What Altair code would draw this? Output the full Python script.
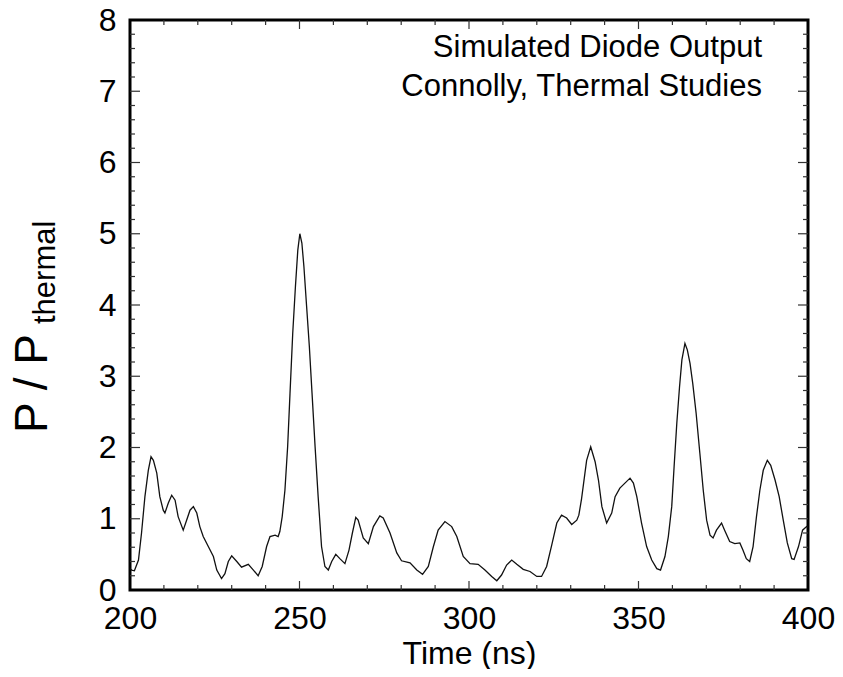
import altair as alt
import pandas as pd

# ---- data ----
time_ns = [200.0, 200.5, 201.3, 202.5, 203.4, 204.4, 205.4, 206.2, 206.9, 207.9, 208.8, 209.8,
           210.3, 211.3, 212.3, 213.3, 214.2, 215.7, 216.7, 217.7, 218.7, 219.7, 220.6, 221.6,
           223.1, 224.6, 225.6, 227.0, 228.0, 229.0, 230.0, 231.5, 232.9, 234.9, 236.4, 237.8,
           239.0, 240.3, 241.3, 242.8, 243.7, 244.2, 244.9, 245.7, 246.5, 247.2, 248.0, 248.8,
           249.5, 250.1, 250.7, 251.3, 252.1, 252.9, 253.7, 254.6, 255.5, 256.5, 257.5, 258.5,
           259.5, 260.7, 261.9, 263.4, 264.6, 265.6, 266.6, 267.3, 268.8, 270.3, 271.8, 273.7,
           274.7, 276.7, 278.7, 280.1, 282.6, 284.6, 286.3, 288.0, 289.5, 290.9, 292.9, 294.9,
           296.4, 298.3, 300.3, 302.7, 304.7, 306.7, 308.2, 309.6, 311.1, 312.6, 314.1, 316.0,
           318.0, 320.0, 321.4, 322.9, 324.4, 325.9, 327.3, 328.8, 330.3, 331.8, 332.4, 333.2,
           334.2, 334.7, 335.9, 337.2, 338.2, 339.2, 340.6, 342.1, 343.1, 344.5, 346.0, 347.5,
           348.5, 349.5, 350.9, 352.4, 353.9, 355.4, 356.5, 357.8, 358.8, 359.8, 360.5, 361.3,
           362.1, 362.8, 363.7, 364.4, 365.2, 366.0, 367.0, 368.1, 369.1, 370.1, 371.1, 372.0,
           373.0, 374.5, 375.4, 376.9, 378.4, 379.9, 380.8, 381.8, 382.8, 383.8, 384.8, 385.8,
           386.8, 388.0, 389.0, 390.3, 391.5, 392.7, 393.9, 395.2, 395.9, 397.2, 398.4, 399.6,
           400.0]
power_ratio = [0.30, 0.28, 0.27, 0.42, 0.80, 1.31, 1.68, 1.87, 1.82, 1.64, 1.31, 1.12,
               1.08, 1.22, 1.33, 1.26, 1.03, 0.84, 0.98, 1.12, 1.17, 1.08, 0.89, 0.75,
               0.61, 0.47, 0.28, 0.16, 0.23, 0.40, 0.48, 0.40, 0.32, 0.36, 0.28, 0.20,
               0.33, 0.61, 0.75, 0.77, 0.75, 0.82, 1.03, 1.40, 2.01, 2.76, 3.60, 4.26,
               4.77, 5.00, 4.87, 4.54, 3.98, 3.42, 2.76, 2.01, 1.31, 0.61, 0.33, 0.28,
               0.40, 0.50, 0.44, 0.37, 0.56, 0.80, 1.02, 0.98, 0.73, 0.65, 0.89, 1.04,
               1.01, 0.80, 0.52, 0.41, 0.38, 0.28, 0.22, 0.33, 0.61, 0.84, 0.96, 0.89,
               0.75, 0.47, 0.37, 0.36, 0.28, 0.19, 0.13, 0.21, 0.35, 0.42, 0.36, 0.29,
               0.26, 0.19, 0.19, 0.33, 0.63, 0.94, 1.05, 1.01, 0.92, 0.98, 1.05, 1.28,
               1.64, 1.82, 2.01, 1.80, 1.54, 1.17, 0.94, 1.08, 1.31, 1.43, 1.50, 1.57,
               1.50, 1.31, 0.94, 0.61, 0.42, 0.30, 0.28, 0.47, 0.75, 1.17, 1.73, 2.34,
               2.85, 3.23, 3.46, 3.37, 3.18, 2.90, 2.48, 1.92, 1.40, 0.98, 0.77, 0.73,
               0.84, 0.94, 0.84, 0.68, 0.65, 0.66, 0.56, 0.44, 0.40, 0.61, 1.03, 1.40,
               1.68, 1.82, 1.75, 1.54, 1.31, 0.98, 0.66, 0.44, 0.43, 0.61, 0.84, 0.89,
               0.88]

x_labels = [200, 250, 300, 350, 400]
y_labels = [0, 1, 2, 3, 4, 5, 6, 7, 8]
x_major_ticks = [250, 300, 350]
x_minor_ticks = [210, 220, 230, 240, 260, 270, 280, 290, 310, 320, 330, 340, 360, 370, 380, 390]
y_major_ticks = [1, 2, 3, 4, 5, 6, 7]
y_minor_ticks = [0.2, 0.4, 0.6, 0.8, 1.2, 1.4, 1.6, 1.8, 2.2, 2.4, 2.6, 2.8, 3.2, 3.4, 3.6, 3.8,
                 4.2, 4.4, 4.6, 4.8, 5.2, 5.4, 5.6, 5.8, 6.2, 6.4, 6.6, 6.8, 7.2, 7.4, 7.6, 7.8]
note_line1 = "Simulated Diode Output"
note_line2 = "Connolly, Thermal Studies"

W, H = 678, 570
FONT = "Liberation Sans"

df = pd.DataFrame({"t": time_ns, "p": power_ratio})
xscale = alt.Scale(domain=[200, 400], nice=False, zero=False)
yscale = alt.Scale(domain=[0, 8], nice=False)

x_axis = alt.Axis(values=x_labels, domain=False, ticks=False, tickSize=0, grid=False,
                  labelFontSize=32, labelPadding=13, labelColor="black", labelFont=FONT,
                  labelFlush=False, labelOverlap=False,
                  title="Time (ns)", titleFontSize=32, titleFontWeight="normal",
                  titleFont=FONT, titleColor="black", titlePadding=4)
y_axis = alt.Axis(values=y_labels, domain=False, ticks=False, tickSize=0, grid=False,
                  labelFontSize=32, labelPadding=14, labelColor="black", labelFont=FONT,
                  labelFlush=False, labelOverlap=False, title="")

line = alt.Chart(df).mark_line(color="#111111", strokeWidth=1.3, clip=True).encode(
    x=alt.X("t:Q", scale=xscale, axis=x_axis),
    y=alt.Y("p:Q", scale=yscale, axis=y_axis),
)

tick_color = "#333333"
tick_w = 1.2


def xticks(vals, length):
    d = pd.DataFrame({"t": vals})
    bottom = alt.Chart(d).mark_rule(color=tick_color, strokeWidth=tick_w).encode(
        x=alt.X("t:Q", scale=xscale, axis=x_axis), y=alt.value(H), y2=alt.value(H - length))
    top = alt.Chart(d).mark_rule(color=tick_color, strokeWidth=tick_w).encode(
        x=alt.X("t:Q", scale=xscale, axis=x_axis), y=alt.value(0), y2=alt.value(length))
    return [bottom, top]


def yticks(vals, length):
    d = pd.DataFrame({"p": vals})
    left = alt.Chart(d).mark_rule(color=tick_color, strokeWidth=tick_w).encode(
        y=alt.Y("p:Q", scale=yscale, axis=y_axis), x=alt.value(0), x2=alt.value(length))
    right = alt.Chart(d).mark_rule(color=tick_color, strokeWidth=tick_w).encode(
        y=alt.Y("p:Q", scale=yscale, axis=y_axis), x=alt.value(W), x2=alt.value(W - length))
    return [left, right]


tick_layers = (xticks(x_minor_ticks, 5) + xticks(x_major_ticks, 9)
               + yticks(y_minor_ticks, 5) + yticks(y_major_ticks, 10))


def text_layer(s, x, y, size, angle=0):
    kw = dict(align="right" if angle == 0 else "left", baseline="alphabetic",
              fontSize=size, font=FONT, color="black")
    if angle:
        kw["angle"] = angle
    return alt.Chart(pd.DataFrame({"s": [s]})).mark_text(**kw).encode(
        text="s:N", x=alt.value(x), y=alt.value(y))


note1 = text_layer(note_line1, 632, 37, 31)
note2 = text_layer(note_line2, 632, 76, 31)
ytitle_main = text_layer("P / P", -83, 413, 46, angle=270)
ytitle_sub = text_layer("thermal", -75, 304, 31, angle=270)

chart = alt.layer(line, *tick_layers, note1, note2, ytitle_main, ytitle_sub).properties(
    width=W, height=H,
    autosize=alt.AutoSizeParams(type="none"),
    padding={"left": 122, "top": 12, "right": 27, "bottom": 79},
    background="white",
).configure_view(stroke="black", strokeWidth=3)

chart.save("out.html", embed_options={"renderer": "svg", "actions": False})
